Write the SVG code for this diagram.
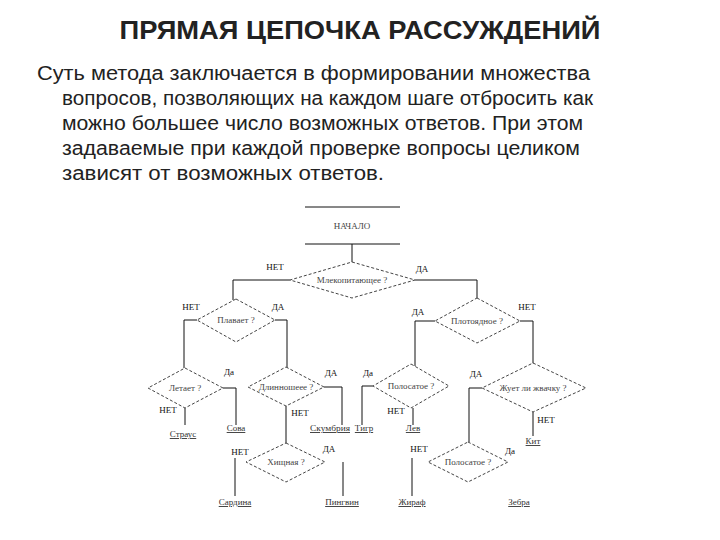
<svg xmlns="http://www.w3.org/2000/svg" width="720" height="540" viewBox="0 0 720 540">
<style>
.title{font-family:"Liberation Sans",Arial,sans-serif;font-weight:bold;font-size:26px;fill:#222}
.body{font-family:"Liberation Sans",Arial,sans-serif;font-size:20px;fill:#222}
.dia{fill:#fff;stroke:#444;stroke-width:1;stroke-dasharray:3,2}
.q{font-family:"Liberation Serif","Times New Roman",serif;font-size:9px;fill:#444;text-anchor:middle}
.lbl{font-family:"Liberation Serif","Times New Roman",serif;font-size:9px;fill:#111;text-anchor:middle}
.leaf{font-family:"Liberation Serif","Times New Roman",serif;font-size:9px;fill:#333;text-anchor:middle;text-decoration:underline}
.c{fill:none;stroke:#111;stroke-width:1}
</style>
<rect width="720" height="540" fill="#fff"/>
<text class="title" x="360" y="39" text-anchor="middle" textLength="481" lengthAdjust="spacingAndGlyphs">ПРЯМАЯ ЦЕПОЧКА РАССУЖДЕНИЙ</text>
<g id="text">
<text class="body" x="37" y="80" textLength="553" lengthAdjust="spacingAndGlyphs">Суть метода заключается в формировании множества</text>
<text class="body" x="62" y="105" textLength="531" lengthAdjust="spacingAndGlyphs">вопросов, позволяющих на каждом шаге отбросить как</text>
<text class="body" x="62" y="130" textLength="521" lengthAdjust="spacingAndGlyphs">можно большее число возможных ответов. При этом</text>
<text class="body" x="62" y="155" textLength="518" lengthAdjust="spacingAndGlyphs">задаваемые при каждой проверке вопросы целиком</text>
<text class="body" x="62" y="180" textLength="322" lengthAdjust="spacingAndGlyphs">зависят от возможных ответов.</text>
</g>
<g id="connectors">
<path class="c" d="M305 207H400M305 244H400"/>
<path class="c" d="M352 244V262"/>
<path class="c" d="M290 280H233V300"/>
<path class="c" d="M415 280H477V298"/>
<path class="c" d="M197 320H184V368"/>
<path class="c" d="M275 320H287V368"/>
<path class="c" d="M223 388H236V425"/>
<path class="c" d="M185 408V425"/>
<path class="c" d="M324 387H342V425"/>
<path class="c" d="M286 406V443"/>
<path class="c" d="M235 458V496"/>
<path class="c" d="M343 462V496"/>
<path class="c" d="M435 321H415V366"/>
<path class="c" d="M520 321H533V364"/>
<path class="c" d="M373 386H362V425"/>
<path class="c" d="M413 408V425"/>
<path class="c" d="M482 388H469V442"/>
<path class="c" d="M533 412V436"/>
<path class="c" d="M412 458V496"/>
</g>
<g id="start"><text class="q" x="352" y="229">НАЧАЛО</text></g>
<g id="q-mammal">
<polygon class="dia" points="352,262 415,280 352,298 290,280"/>
<text class="q" x="352" y="283">Млекопитающее ?</text>
<text class="lbl" x="275" y="270">НЕТ</text>
<text class="lbl" x="422" y="272">ДА</text>
</g>
<g id="q-swim">
<polygon class="dia" points="236,299 275,320 236,342 197,320"/>
<text class="q" x="236" y="323">Плавает ?</text>
<text class="lbl" x="191" y="310">НЕТ</text>
<text class="lbl" x="278" y="310">ДА</text>
</g>
<g id="q-meat">
<polygon class="dia" points="477,298 520,321 477,343 435,321"/>
<text class="q" x="477" y="324">Плотоядное ?</text>
<text class="lbl" x="418" y="315">ДА</text>
<text class="lbl" x="527" y="310">НЕТ</text>
</g>
<g id="q-fly">
<polygon class="dia" points="185,368 223,388 185,408 148,388"/>
<text class="q" x="185" y="391">Летает ?</text>
<text class="lbl" x="229" y="375">Да</text>
<text class="lbl" x="168" y="413">НЕТ</text>
</g>
<g id="q-neck">
<polygon class="dia" points="286,367 324,387 286,406 248,387"/>
<text class="q" x="286" y="390">Длинношеее ?</text>
<text class="lbl" x="331" y="376">ДА</text>
<text class="lbl" x="300" y="416">НЕТ</text>
</g>
<g id="q-striped1">
<polygon class="dia" points="411,364 449,386 411,408 373,386"/>
<text class="q" x="411" y="389">Полосатое ?</text>
<text class="lbl" x="368" y="376">Да</text>
<text class="lbl" x="396" y="414">НЕТ</text>
</g>
<g id="q-chew">
<polygon class="dia" points="533,363 586,388 533,412 482,388"/>
<text class="q" x="533" y="391">Жует ли жвачку ?</text>
<text class="lbl" x="476" y="377">ДА</text>
<text class="lbl" x="546" y="423">НЕТ</text>
</g>
<g id="q-pred">
<polygon class="dia" points="286,443 325,462 286,482 246,462"/>
<text class="q" x="286" y="465">Хищная ?</text>
<text class="lbl" x="240" y="455">НЕТ</text>
<text class="lbl" x="329" y="452">ДА</text>
</g>
<g id="q-striped2">
<polygon class="dia" points="468,442 508,462 468,482 428,462"/>
<text class="q" x="468" y="465">Полосатое ?</text>
<text class="lbl" x="419" y="452">НЕТ</text>
<text class="lbl" x="510" y="454">Да</text>
</g>
<g id="leaves">
<text class="leaf" x="183" y="437">Страус</text>
<text class="leaf" x="236" y="431">Сова</text>
<text class="leaf" x="330" y="431" textLength="40" lengthAdjust="spacingAndGlyphs">Скумбрия</text>
<text class="leaf" x="364" y="431">Тигр</text>
<text class="leaf" x="413" y="431">Лев</text>
<text class="leaf" x="533" y="444">Кит</text>
<text class="leaf" x="235" y="505">Сардина</text>
<text class="leaf" x="342" y="505">Пингвин</text>
<text class="leaf" x="412" y="505">Жираф</text>
<text class="leaf" x="519" y="505">Зебра</text>
</g>
</svg>
